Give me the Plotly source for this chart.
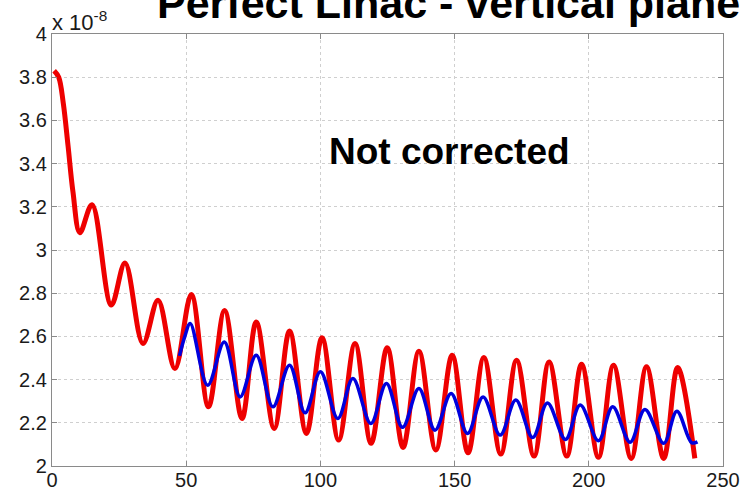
import plotly.graph_objects as go

# Red curve ("Not corrected") (extrema and shoulders)
red_x = [0.8, 2.5, 4.2, 6.0, 7.8, 10.4, 14.9, 22.1, 27.2, 33.9, 39.5, 45.8, 51.9, 58.3,
         64.3, 70.8, 76.1, 82.8, 88.5, 94.8, 100.6, 106.8, 112.9, 118.9, 124.9, 130.8,
         136.7, 143.0, 149.1, 155.0, 160.9, 167.2, 173.1, 179.6, 185.2, 191.8, 197.3,
         203.6, 209.2, 215.8, 221.5, 227.9, 233.1, 239.5]
red_y = [3.83, 3.80, 3.68, 3.48, 3.27, 3.08, 3.21, 2.745, 2.94, 2.567, 2.767, 2.451, 2.794,
         2.274, 2.72, 2.22, 2.667, 2.174, 2.625, 2.151, 2.594, 2.12, 2.567, 2.105, 2.548,
         2.086, 2.531, 2.074, 2.513, 2.061, 2.502, 2.055, 2.49, 2.046, 2.482, 2.046, 2.471,
         2.04, 2.466, 2.035, 2.459, 2.035, 2.456, 2.035]

# Blue curve (corrected)
blue_x = [47.5, 49.5, 51.5, 58.0, 64.2, 70.1, 76.1, 82.3, 88.5, 94.3, 100.0, 106.5, 112.1,
          118.8, 124.6, 130.6, 136.7, 142.7, 148.7, 154.8, 160.6, 167.0, 172.8, 179.1,
          184.6, 191.3, 196.8, 203.6, 208.9, 215.4, 220.9, 227.9, 232.8, 238.3, 240.5]
blue_y = [2.51, 2.60, 2.66, 2.374, 2.574, 2.32, 2.513, 2.274, 2.467, 2.246, 2.436, 2.22,
          2.405, 2.197, 2.382, 2.179, 2.359, 2.166, 2.336, 2.151, 2.32, 2.143, 2.305, 2.132,
          2.292, 2.123, 2.282, 2.117, 2.274, 2.11, 2.262, 2.105, 2.254, 2.108, 2.112]

x_ticks = [0, 50, 100, 150, 200, 250]
y_ticks = [2.0, 2.2, 2.4, 2.6, 2.8, 3.0, 3.2, 3.4, 3.6, 3.8, 4.0]
y_tick_labels = ["2", "2.2", "2.4", "2.6", "2.8", "3", "3.2", "3.4", "3.6", "3.8", "4"]

FONT = "Liberation Sans, Arial, Helvetica, sans-serif"

fig = go.Figure()
fig.add_trace(go.Scatter(x=red_x, y=red_y, mode="lines",
                         line=dict(color="#ee0000", width=5, shape="spline", smoothing=1.0),
                         showlegend=False, hoverinfo="skip"))
fig.add_trace(go.Scatter(x=blue_x, y=blue_y, mode="lines",
                         line=dict(color="#0000dd", width=3.5, shape="spline", smoothing=1.0),
                         showlegend=False, hoverinfo="skip"))

axis_common = dict(showgrid=True, gridcolor="#cfcfcf", griddash="dot", gridwidth=1,
                   zeroline=False, showline=True, linecolor="#8a8a8a", linewidth=1.2,
                   mirror="ticks", ticks="inside", ticklen=5, tickcolor="#8a8a8a",
                   automargin=False)

fig.update_xaxes(range=[0, 250], tickvals=x_ticks, ticktext=[str(v) for v in x_ticks],
                 tickfont=dict(family=FONT, size=20, color="#1a1a1a"),
                 ticklabelstandoff=-4, **axis_common)
fig.update_yaxes(range=[2, 4], tickvals=y_ticks, ticktext=y_tick_labels,
                 tickfont=dict(family=FONT, size=20, color="#1a1a1a"), **axis_common)

fig.add_annotation(text="x 10<sup>-8</sup>", xref="paper", yref="paper", x=0, y=1,
                   xanchor="left", yanchor="bottom", showarrow=False, xshift=-2, yshift=-3,
                   font=dict(family=FONT, size=22, color="#1a1a1a"))
fig.add_annotation(text="<b>Perfect Linac - vertical plane</b>", xref="paper", yref="paper",
                   x=(155 - 52) / 671, y=1, xanchor="left", yanchor="bottom", yshift=5,
                   showarrow=False, font=dict(family=FONT, size=43, color="#000000"))
fig.add_annotation(text="<b>Not corrected</b>", xref="paper", yref="paper",
                   x=(449 - 52) / 671, y=(466 - 151) / 432, xanchor="center", yanchor="middle",
                   showarrow=False, font=dict(family=FONT, size=37, color="#000000"))

fig.update_layout(width=742, height=493, margin=dict(l=52, r=19, t=34, b=27),
                  paper_bgcolor="white", plot_bgcolor="white")

fig.write_html("out.html")
